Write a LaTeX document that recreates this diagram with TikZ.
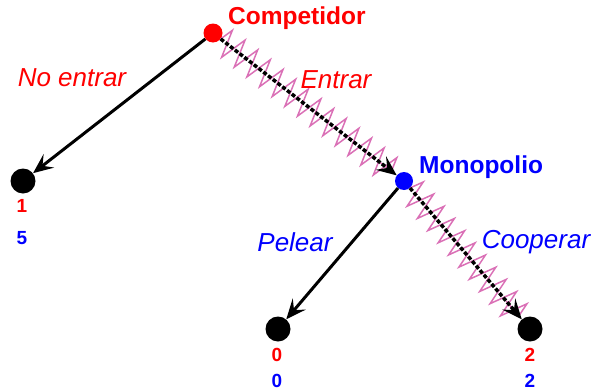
\documentclass[tikz,border=0pt]{standalone}
\usepackage{fontspec}
\setmainfont{Liberation Sans}
\usetikzlibrary{arrows.meta,decorations.pathmorphing}
\definecolor{zz}{RGB}{218,112,182}
\tikzset{
  x=1pt, y=-1pt,
  dot/.style={circle, fill, inner sep=0pt},
  leaf/.style={dot, black, minimum size=25pt},
  arr/.style={line width=3pt, -{Stealth[length=20pt, width=17pt, inset=8pt]}},
  eqpath/.style={arr, line width=3.5pt, dash pattern=on 4pt off 2pt},
  zig/.style={draw=zz, line width=1.5pt, decorate,
    decoration={zigzag, amplitude=14pt, segment length=16pt}},
  plabel/.style={font=\fontsize{24.5}{28}\selectfont\bfseries},
  elabel/.style={font=\fontsize{26}{30}\selectfont\itshape},
  pay/.style={font=\fontsize{19}{21}\selectfont\bfseries, inner sep=0pt},
}
\begin{document}
\begin{tikzpicture}
\useasboundingbox (0,0) rectangle (592,391);
% nodes
\node[dot, red, minimum size=19pt] (C) at (213,33) {};
\node[dot, blue, minimum size=18pt] (M) at (404,181) {};
\node[leaf] (L1) at (23,181) {};
\node[leaf] (L2) at (278,329) {};
\node[leaf] (L3) at (530,329) {};
% zigzags
\draw[zig, shorten >=24pt] (C) -- (M);
\draw[zig, shorten >=24pt] (M) -- (L3);
% edges
\draw[arr] (C) -- (L1);
\draw[eqpath] (C) -- (M);
\draw[arr] (M) -- (L2);
\draw[eqpath] (M) -- (L3);
% labels
\node[plabel, red, anchor=west, inner sep=0pt] (tC) at (228,18) {Competidor};
\node[plabel, blue, anchor=west, inner sep=0pt] (tM) at (419,167) {Monopolio};
\node[elabel, red, inner sep=0pt] (tNE) at (72,78) {No entrar};
\node[elabel, red, inner sep=0pt] (tE) at (336,80) {Entrar};
\node[elabel, blue, inner sep=0pt] (tP) at (295,242) {Pelear};
\node[elabel, blue, inner sep=0pt] (tCo) at (536,242) {Cooperar};
% payoffs
\node[pay, red] (p1a) at (22,206) {1};
\node[pay, blue] (p1b) at (22,238) {5};
\node[pay, red] (p2a) at (277,355) {0};
\node[pay, blue] (p2b) at (277,381) {0};
\node[pay, red] (p3a) at (530,355) {2};
\node[pay, blue] (p3b) at (530,381) {2};
\end{tikzpicture}
\end{document}
